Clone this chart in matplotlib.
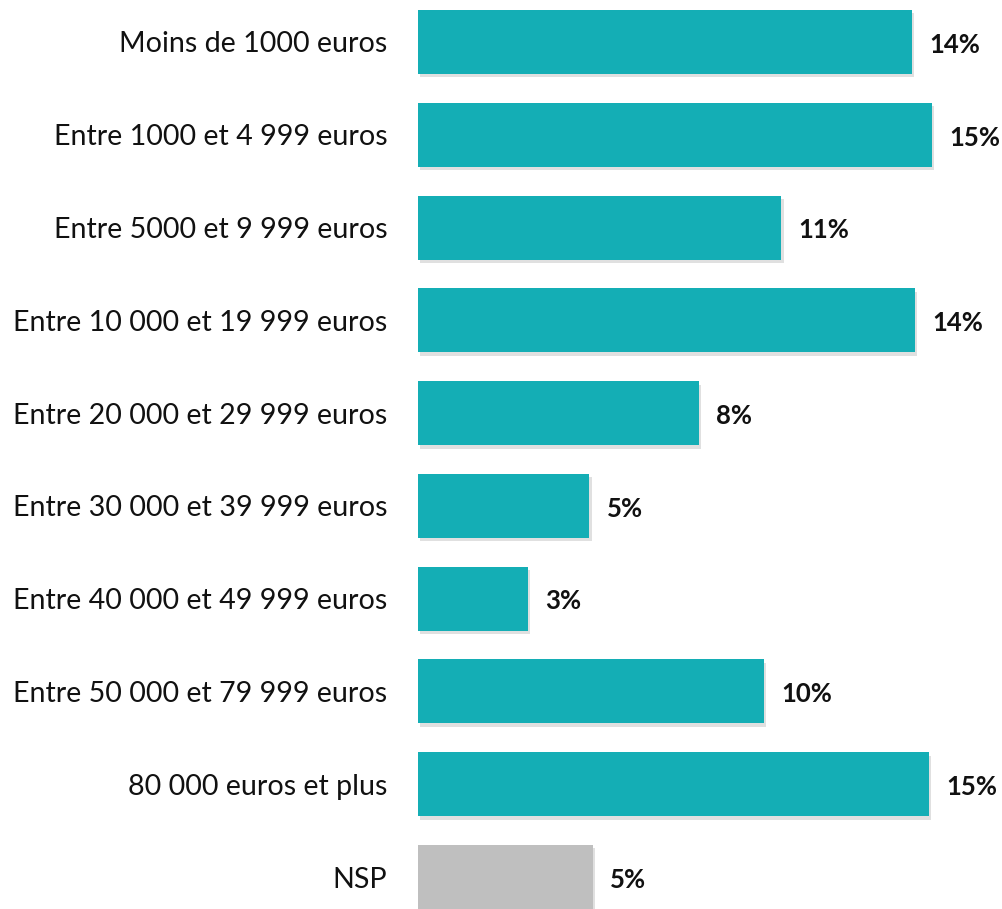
import matplotlib
matplotlib.use("Agg")
import matplotlib.pyplot as plt
import matplotlib.patheffects as pe

categories = [
    "Moins de 1000 euros",
    "Entre 1000 et 4 999 euros",
    "Entre 5000 et 9 999 euros",
    "Entre 10 000 et 19 999 euros",
    "Entre 20 000 et 29 999 euros",
    "Entre 30 000 et 39 999 euros",
    "Entre 40 000 et 49 999 euros",
    "Entre 50 000 et 79 999 euros",
    "80 000 euros et plus",
    "NSP",
]
values = [14.4, 15.0, 10.6, 14.5, 8.2, 5.0, 3.2, 10.1, 14.9, 5.1]
labels = ["14%", "15%", "11%", "14%", "8%", "5%", "3%", "10%", "15%", "5%"]
colors = ["#14AEB5"] * 9 + ["#BFBFBF"]

plt.rcParams['font.family'] = ['Lato', 'DejaVu Sans']

W, H, DPI = 1002, 909, 100
fig = plt.figure(figsize=(W / DPI, H / DPI), dpi=DPI)
left_px, top_px, bottom_px = 418, -4.4, 923.4
ax = fig.add_axes([left_px / W, 1 - bottom_px / H, (W - left_px) / W, (bottom_px - top_px) / H])

y = list(range(len(categories)))
bars = ax.barh(y, values, height=0.69, color=colors, zorder=2)
for b in bars:
    b.set_path_effects([pe.SimplePatchShadow(offset=(1.5, -2.5), shadow_rgbFace='#999999', alpha=0.3), pe.Normal()])

for yi, v, lab in zip(y, values, labels):
    ax.text(v + 0.5, yi + 0.03, lab, va='center', ha='left', fontsize=18.5, fontweight='bold', color='#111111')

ax.set_ylim(len(categories) - 0.5, -0.5)
ax.set_xlim(0, 17.03)
ax.set_yticks(y)
ax.set_yticklabels(categories, fontsize=20.6, color='#111111')
ax.tick_params(axis='y', length=0, pad=22)
ax.set_xticks([])
for s in ax.spines.values():
    s.set_visible(False)

fig.savefig("out.png", dpi=DPI)
